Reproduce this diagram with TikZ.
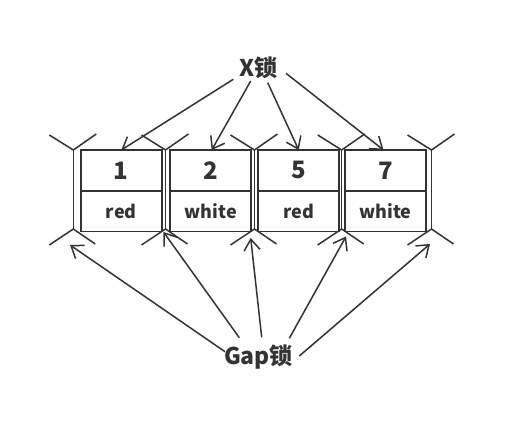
\documentclass[tikz,border=0pt]{standalone}
\usepackage{fontspec}
\setmainfont{Noto Sans CJK SC}
\usetikzlibrary{arrows.meta}
\definecolor{ink}{HTML}{333333}
\tikzset{
  cell/.style={draw=ink, line width=1.5pt, minimum width=81pt, minimum height=40.8pt, inner sep=0pt, outer sep=0pt, text=ink, font=\bfseries\fontsize{18}{18}\selectfont},
  keycell/.style={cell, font=\bfseries\fontsize{24}{24}\selectfont},
  lbl/.style={text=ink, font=\bfseries\fontsize{23}{23}\selectfont, inner sep=0pt},
  gapmark/.style={draw=ink, line width=1.5pt},
  arr/.style={draw=ink, line width=1.5pt, -{Straight Barb[length=11pt,width=16pt,line width=1.5pt]}}
}
\begin{document}
\begin{tikzpicture}[x=1pt,y=-1pt]
\useasboundingbox (0,0) rectangle (530,435);
% boxes
\node[keycell] (k1) at (121.3,170.4) {1};
\node[cell, anchor=north] (v1) at (k1.south) {red};
\node[keycell] (k2) at (210.7,170.4) {2};
\node[cell, anchor=north] (v2) at (k2.south) {white};
\node[keycell] (k3) at (298.7,170.4) {5};
\node[cell, anchor=north] (v3) at (k3.south) {red};
\node[keycell] (k4) at (385.5,170.4) {7};
\node[cell, anchor=north] (v4) at (k4.south) {white};
% gap markers
\foreach \i/\x in {1/73.3,2/165.5,3/254.5,4/341.7,5/431.5}{
  \coordinate (gt\i) at (\x,150);
  \coordinate (gb\i) at (\x,229);
  \draw[gapmark] ([shift={(-24,-15)}]gt\i) -- (gt\i) -- ([shift={(23,-16)}]gt\i);
  \draw[gapmark] (gt\i) -- (gb\i);
  \draw[gapmark] ([shift={(-24,16)}]gb\i) -- (gb\i) -- ([shift={(22,15)}]gb\i);
}
% labels
\node[lbl] (xl) at (258.5,68) {X锁};
\node[lbl] (gl) at (258.5,357) {Gap锁};
% X lock arrows
\coordinate (xs1) at (233.3,79.3);
\coordinate (xs2) at (250.7,81);
\coordinate (xs3) at (267.7,82.7);
\coordinate (xs4) at (286,73.3);
\draw[arr] (xs1) -- (k1.north);
\draw[arr] (xs2) -- ([xshift=1pt]k2.north);
\draw[arr] (xs3) -- (k3.north);
\draw[arr] (xs4) -- ([xshift=-2pt]k4.north);
% Gap lock arrows
\coordinate (gs1) at (225,351.7);
\coordinate (gs2) at (239.3,337.7);
\coordinate (gs3) at (261.7,337.3);
\coordinate (gs4) at (289.3,338.3);
\coordinate (gs5) at (299.3,356);
\coordinate (gtip1) at (70,245);
\coordinate (gtip2) at (163.5,232);
\coordinate (gtip3) at (250.7,238);
\coordinate (gtip4) at (346,236.5);
\coordinate (gtip5) at (430,244);
\draw[arr] (gs1) -- (gtip1);
\draw[arr] (gs2) -- (gtip2);
\draw[arr] (gs3) -- (gtip3);
\draw[arr] (gs4) -- (gtip4);
\draw[arr] (gs5) -- (gtip5);
\end{tikzpicture}
\end{document}
